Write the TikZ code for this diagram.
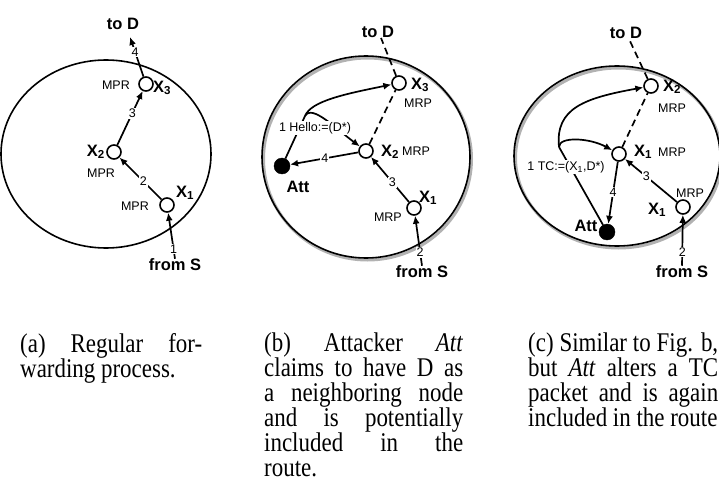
\documentclass[tikz,border=0pt]{standalone}
\usepackage{fontspec}
\setmainfont{Liberation Serif}
\setsansfont{Liberation Sans}
\newfontfamily\capfont[FakeStretch=0.85]{Liberation Serif}
\usetikzlibrary{arrows.meta,positioning,calc}

\begin{document}
\begin{tikzpicture}[
		x=1pt, y=-1pt,
		relay/.style={draw,fill=white,circle,line width=1.6pt,minimum size=14pt,inner sep=0pt},
		attacker/.style={draw,fill=black,circle,minimum size=16pt,inner sep=0pt},
		hop/.style={fill=white,inner sep=1pt,font=\sffamily\fontsize{12.5}{14}\selectfont},
		tag/.style={inner sep=0pt,font=\sffamily\fontsize{12.5}{14}\selectfont},
		lbl/.style={inner sep=0pt,font=\sffamily\bfseries\fontsize{16.5}{18}\selectfont},
		area/.style={draw,line width=1.6pt},
		shade/.style={draw=black!30,line width=3pt},
		fwd/.style={-{Latex[length=8pt,width=7pt]},line width=1.7pt},
		fake/.style={line width=1.7pt,dash pattern=on 7pt off 4.5pt},
		subcap/.style={anchor=north west,inner sep=0pt,align=justify,font=\capfont\fontsize{27}{25}\selectfont}
	]
	\useasboundingbox (0,0) rectangle (719,497);

	% (a) regular forwarding
	\draw[area] (106,154) ellipse [x radius=105, y radius=94];
	\node[relay] (Xa3) at (146,84) {};
	\node[relay] (Xa2) at (114,152) {};
	\node[relay] (Xa1) at (167,205) {};
	\node[lbl] (toDa) at (123,24) {to D};
	\node[lbl] (fromSa) at (175,265) {from S};
	\coordinate (enda) at (130,37);
	\node[lbl,anchor=west] (Xa3l) at (153,88) {X\textsubscript{3}};
	\node[tag,anchor=east] (Xa3m) at (130,85) {MPR};
	\node[lbl,anchor=east] (Xa2l) at (105,152) {X\textsubscript{2}};
	\node[tag] (Xa2m) at (101,173) {MPR};
	\node[lbl] (Xa1l) at (185,193) {X\textsubscript{1}};
	\node[tag,anchor=east] (Xa1m) at (149,206) {MPR};
	\draw[fwd] (fromSa.north) -- node[hop,pos=0.21] {1} (Xa1);
	\draw[fwd] (Xa1) -- node[hop,pos=0.43] {2} (Xa2);
	\draw[fwd] (Xa2) -- node[hop,pos=0.59] {3} (Xa3);
	\draw[fwd] (Xa3) -- node[hop,pos=0.62] {4} (enda);

	% (b) fake hello
	\draw[shade] (367.5,159) ellipse [x radius=104, y radius=101];
	\draw[area] (366,157) ellipse [x radius=104, y radius=101];
	\node[relay] (Xb3) at (399,83) {};
	\node[relay] (Xb2) at (366,151) {};
	\node[relay] (Xb1) at (414,208) {};
	\node[attacker] (Attb) at (282,166) {};
	\node[lbl] (toDb) at (378,32) {to D};
	\node[lbl] (fromSb) at (422,272) {from S};
	\node[lbl,anchor=west] (Xb3l) at (411,85) {X\textsubscript{3}};
	\node[tag] (Xb3m) at (418,103) {MRP};
	\node[lbl,anchor=west] (Xb2l) at (381,152) {X\textsubscript{2}};
	\node[tag,anchor=west] (Xb2m) at (402,151) {MRP};
	\node[lbl] (Xb1l) at (428,198) {X\textsubscript{1}};
	\node[tag,anchor=east] (Xb1m) at (402,217) {MRP};
	\node[lbl] (Attbl) at (298,187) {Att};
	\coordinate (hb) at (305,116);
	\draw[fwd] (fromSb.north) -- node[hop,pos=0.27] {2} (Xb1);
	\draw[fwd] (Xb1) -- node[hop,pos=0.44] {3} (Xb2);
	\draw[fwd] (Xb2) -- node[hop,pos=0.49] {4} (Attb);
	\draw[fake] (Xb2) -- (Xb3);
	\draw[fake] (Xb3) -- ([xshift=3pt]toDb.south);
	\draw[line width=1.7pt] (Attb) -- (hb);
	\draw[fwd] (hb) .. controls (311,101) and (345,94) .. (Xb3);
	\draw[fwd] (hb) .. controls (312,104) and (335,128) .. (Xb2);
	\node[hop] (hello) at (315,128) {1 Hello:=(D*)};

	% (c) altered TC
	\draw[shade] (618.5,158) ellipse [x radius=103, y radius=90];
	\draw[area] (617,156) ellipse [x radius=103, y radius=90];
	\node[relay] (Xc2) at (651,86) {};
	\node[relay] (Xc1) at (619,154) {};
	\node[relay] (Xc1b) at (683,207) {};
	\node[attacker] (Attc) at (607,232) {};
	\node[lbl] (toDc) at (626,33) {to D};
	\node[lbl] (fromSc) at (682,272) {from S};
	\node[lbl,anchor=west] (Xc2l) at (663,87) {X\textsubscript{2}};
	\node[tag] (Xc2m) at (672,108) {MRP};
	\node[lbl,anchor=west] (Xc1l) at (634,152) {X\textsubscript{1}};
	\node[tag,anchor=west] (Xc1m) at (658,152) {MRP};
	\node[lbl] (Xc1bl) at (657,210) {X\textsubscript{1}};
	\node[tag] (Xc1bm) at (690,193) {MRP};
	\node[lbl] (Attcl) at (586,226) {Att};
	\coordinate (hc) at (559,147);
	\draw[fwd] (fromSc.north) -- node[hop,pos=0.27] {2} (Xc1b);
	\draw[fwd] (Xc1b) -- node[hop,pos=0.59] {3} (Xc1);
	\draw[fwd] (Xc1) -- node[hop,pos=0.49] {4} (Attc);
	\draw[fake] (Xc1) -- (Xc2);
	\draw[fake] (Xc2) -- ([xshift=3pt]toDc.south);
	\draw[line width=1.7pt] (Attc) -- (hc);
	\draw[fwd] (hc) .. controls (555,108) and (585,98) .. (Xc2);
	\draw[fwd] (hc) .. controls (559,136) and (590,138) .. (Xc1);
	\node[hop] (tc) at (566,167) {1 TC:=(X\textsubscript{1},D*)};

	% sub-captions
	\node[subcap,text width=182pt] (capa) at (20,333) {(a) Regular for-\linebreak warding process.};
	\node[subcap,text width=199pt] (capb) at (264,333) {(b) Attacker \textit{Att}\linebreak claims to have D as\linebreak a neighboring node\linebreak and is potentially\linebreak included in the\linebreak route.};
	\node[subcap,text width=190pt] (capc) at (528,333) {(c) Similar to Fig. b,\linebreak but \textit{Att} alters a TC\linebreak packet and is again\linebreak included in the route};
\end{tikzpicture}
\end{document}
